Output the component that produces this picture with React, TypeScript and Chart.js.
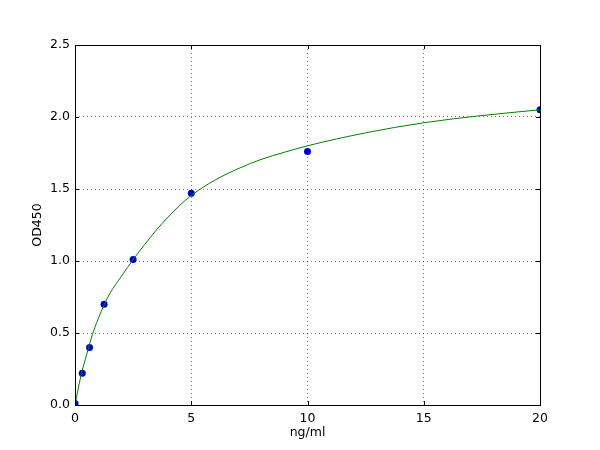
import { useEffect, useRef } from "react";
import { Chart, registerables } from "chart.js";

Chart.register(...registerables);

// measured standards
const concentrations = [0, 0.3125, 0.625, 1.25, 2.5, 5, 10, 20];
const absorbances = [0.01, 0.22, 0.4, 0.7, 1.01, 1.47, 1.76, 2.05];

// fitted curve
const curveX = [0, 0.25, 0.5, 0.75, 1, 1.25, 1.5, 2, 2.5, 3, 3.5, 4, 4.5, 5, 6, 7, 8, 9, 10, 12.5, 15, 17.5, 20];
const curveY = [0, 0.2, 0.35, 0.49, 0.6, 0.695, 0.775, 0.895, 1.01, 1.115, 1.215, 1.305, 1.385, 1.455, 1.56, 1.64, 1.705, 1.755, 1.8, 1.89, 1.96, 2.01, 2.05];

const xTicks = [0, 5, 10, 15, 20];
const yTicks = [0, 0.5, 1.0, 1.5, 2.0, 2.5];

const FONT = { family: "'DejaVu Sans', sans-serif", size: 12.5 };
const GRID = "rgba(0,0,0,0.5)";

// matplotlib-style inward ticks on all four sides
const innerTicks = {
	id: "innerTicks",
	afterDatasetsDraw(chart: Chart) {
		const { ctx, chartArea: a, scales } = chart;
		const len = 4;
		ctx.save();
		ctx.strokeStyle = "#000";
		ctx.lineWidth = 1;
		ctx.beginPath();
		for (const v of xTicks) {
			const px = Math.round(scales.x.getPixelForValue(v)) + 0.5;
			ctx.moveTo(px, a.bottom);
			ctx.lineTo(px, a.bottom - len);
			ctx.moveTo(px, a.top);
			ctx.lineTo(px, a.top + len);
		}
		for (const v of yTicks) {
			const py = Math.round(scales.y.getPixelForValue(v)) + 0.5;
			ctx.moveTo(a.left, py);
			ctx.lineTo(a.left + len, py);
			ctx.moveTo(a.right, py);
			ctx.lineTo(a.right - len, py);
		}
		ctx.stroke();
		ctx.strokeRect(a.left + 0.5, a.top + 0.5, a.right - a.left, a.bottom - a.top);
		ctx.restore();
	},
};

export default function App() {
	const canvasRef = useRef<HTMLCanvasElement | null>(null);

	useEffect(() => {
		if (!canvasRef.current) return;
		const chart = new Chart(canvasRef.current, {
			type: "scatter",
			data: {
				datasets: [
					{
						type: "line",
						label: "fit",
						data: curveX.map((x, i) => ({ x, y: curveY[i] })),
						borderColor: "#008000",
						borderWidth: 1,
						pointRadius: 0,
						cubicInterpolationMode: "monotone",
						fill: false,
						clip: 0,
					},
					{
						label: "OD450",
						data: concentrations.map((x, i) => ({ x, y: absorbances[i] })),
						backgroundColor: "#0000cc",
						borderColor: "#0000cc",
						pointRadius: 3.5,
						borderWidth: 0,
						clip: 0,
					},
				],
			},
			options: {
				animation: false,
				responsive: false,
				layout: { padding: { top: 45, right: 60, left: 0, bottom: 0 } },
				plugins: {
					legend: { display: false },
					tooltip: { enabled: false },
				},
				scales: {
					x: {
						type: "linear",
						min: 0,
						max: 20,
						afterBuildTicks: (s) => {
							s.ticks = xTicks.map((value) => ({ value }));
						},
						afterFit: (s) => {
							s.height = 45;
						},
						border: { display: false, dash: [1, 3] },
						grid: {
							color: (c) => (c.tick.value === 0 || c.tick.value === 20 ? "rgba(0,0,0,0)" : GRID),
							lineWidth: 1,
							drawTicks: false,
						},
						ticks: {
							color: "#000",
							font: FONT,
							padding: 6,
							maxRotation: 0,
							callback: (v) => String(v),
						},
						title: {
							display: true,
							text: "ng/ml",
							color: "#000",
							font: FONT,
							padding: { top: 0, bottom: 9.5 },
						},
					},
					y: {
						type: "linear",
						min: 0,
						max: 2.5,
						afterBuildTicks: (s) => {
							s.ticks = yTicks.map((value) => ({ value }));
						},
						afterFit: (s) => {
							s.width = 75;
						},
						border: { display: false, dash: [1, 3] },
						grid: {
							color: (c) => (c.tick.value === 0 || c.tick.value === 2.5 ? "rgba(0,0,0,0)" : GRID),
							lineWidth: 1,
							drawTicks: false,
						},
						ticks: {
							color: "#000",
							font: FONT,
							padding: 5,
							callback: (v) => Number(v).toFixed(1),
						},
						title: {
							display: true,
							text: "OD450",
							color: "#000",
							font: FONT,
							padding: { top: 30, bottom: 0 },
						},
					},
				},
			},
			plugins: [innerTicks],
		});
		return () => chart.destroy();
	}, []);

	return (
		<div style={{ position: "fixed", left: 0, top: 0, width: 600, height: 450, background: "#fff" }}>
			<canvas ref={canvasRef} width={600} height={450} />
		</div>
	);
}
